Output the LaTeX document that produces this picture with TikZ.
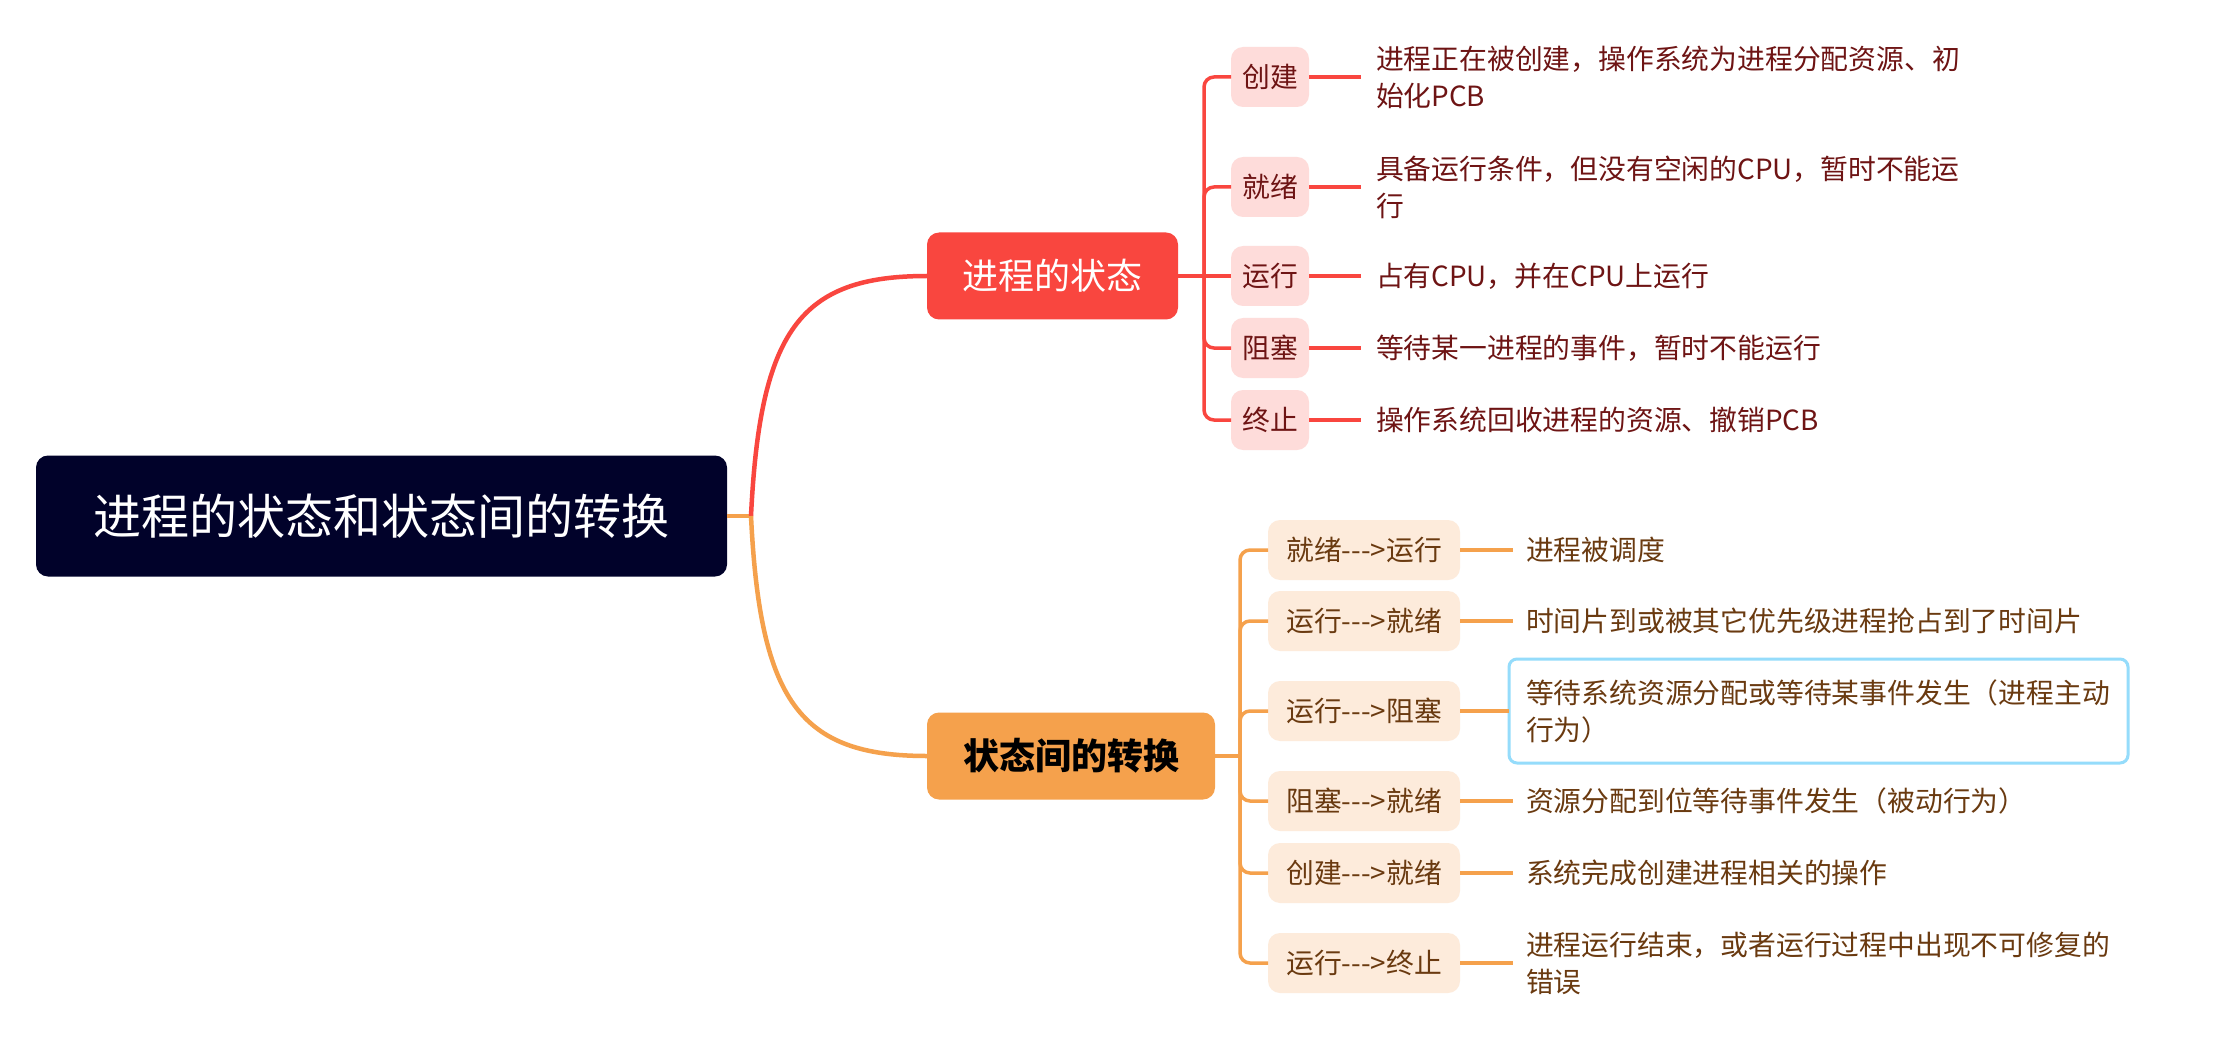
\documentclass[tikz,border=0pt]{standalone}
\usepackage{fontspec}
\setmainfont{Noto Sans CJK SC}
\definecolor{rootc}{HTML}{01022A}
\definecolor{redc}{HTML}{F9463F}
\definecolor{pinkc}{HTML}{FEDCDA}
\definecolor{redtxt}{HTML}{6E1414}
\definecolor{orc}{HTML}{F5A14C}
\definecolor{ofill}{HTML}{FDEBDB}
\definecolor{otxt}{HTML}{6A3A10}
\definecolor{bluec}{HTML}{95DCFB}
\begin{document}
\begin{tikzpicture}[x=1pt,y=-1pt,
  every node/.style={inner sep=0pt, outer sep=0pt},
  rootbox/.style={fill=rootc, rounded corners=12pt, minimum width=691pt, minimum height=121pt, text=white, font=\fontsize{48}{56}\selectfont},
  redmain/.style={fill=redc, rounded corners=12pt, minimum width=251pt, minimum height=87pt, text=white, font=\fontsize{36}{44}\selectfont},
  ormain/.style={fill=orc, rounded corners=12pt, minimum width=288pt, minimum height=87pt, text=black, font=\fontsize{36}{44}\selectfont\bfseries},
  rchild/.style={fill=pinkc, rounded corners=12pt, minimum width=78pt, minimum height=60pt, text=redtxt, font=\fontsize{27.8}{37}\selectfont},
  ochild/.style={fill=ofill, rounded corners=12pt, minimum width=192pt, minimum height=60pt, text=otxt, font=\fontsize{27.8}{37}\selectfont},
  rdesc/.style={anchor=west, align=left, text=redtxt, font=\fontsize{27.8}{37}\selectfont, inner xsep=15pt},
  odesc/.style={anchor=west, align=left, text=otxt, font=\fontsize{27.8}{37}\selectfont, inner xsep=13pt},
  rline/.style={draw=redc, line width=3.5pt},
  oline/.style={draw=orc, line width=3.5pt},
  hilite/.style={draw=bluec, line width=3pt, rounded corners=8pt, anchor=west, align=left, text=otxt, font=\fontsize{27.8}{37}\selectfont, inner xsep=17pt, text width=585pt, minimum height=104pt}
]
\useasboundingbox[fill=white] (0,0) rectangle (2234,1040);

% root
\node[rootbox] (root) at (381.5,516) {进程的状态和状态间的转换};
\node[redmain] (rm) at (1052.5,276) {进程的状态};
\node[ormain] (om) at (1071,756) {状态间的转换};

\coordinate (j) at (751,516);
\draw[oline, line width=4.5pt] (root.east) -- (j);
\draw[rline, line width=4.5pt] (j) .. controls (760,330) and (800,276) .. (rm.west);
\draw[oline, line width=4.5pt] (j) .. controls (760,702) and (800,756) .. (om.west);

% red children
\node[rchild] (c1) at (1270,77) {创建};
\node[rchild] (c2) at (1270,187) {就绪};
\node[rchild] (c3) at (1270,276) {运行};
\node[rchild] (c4) at (1270,348) {阻塞};
\node[rchild] (c5) at (1270,420) {终止};

\node[rdesc] (d1) at (1361,77) {进程正在被创建，操作系统为进程分配资源、初\\始化PCB};
\node[rdesc] (d2) at (1361,187) {具备运行条件，但没有空闲的CPU，暂时不能运\\行};
\node[rdesc] (d3) at (1361,276) {占有CPU，并在CPU上运行};
\node[rdesc] (d4) at (1361,348) {等待某一进程的事件，暂时不能运行};
\node[rdesc] (d5) at (1361,420) {操作系统回收进程的资源、撤销PCB};

\coordinate (rh) at (1204,276);
\draw[rline] (rm.east) -- (rh);
\foreach \c in {c1,c2,c4,c5} {\draw[rline, rounded corners=10pt] (rh) |- (\c.west);}
\draw[rline] (rh) -- (c3.west);
\foreach \i in {1,...,5} {\draw[rline] (c\i.east) -- (d\i.west);}

% orange children
\node[ochild] (o1) at (1364,550) {就绪-{}-{}->运行};
\node[ochild] (o2) at (1364,621) {运行-{}-{}->就绪};
\node[ochild] (o3) at (1364,711) {运行-{}-{}->阻塞};
\node[ochild] (o4) at (1364,801) {阻塞-{}-{}->就绪};
\node[ochild] (o5) at (1364,873) {创建-{}-{}->就绪};
\node[ochild] (o6) at (1364,963) {运行-{}-{}->终止};

\node[odesc] (e1) at (1513,550) {进程被调度};
\node[odesc] (e2) at (1513,621) {时间片到或被其它优先级进程抢占到了时间片};
\node[hilite] (e3) at (1509,711) {等待系统资源分配或等待某事件发生（进程主动\\行为）};
\node[odesc] (e4) at (1513,801) {资源分配到位等待事件发生（被动行为）};
\node[odesc] (e5) at (1513,873) {系统完成创建进程相关的操作};
\node[odesc] (e6) at (1513,963) {进程运行结束，或者运行过程中出现不可修复的\\错误};

\coordinate (oh) at (1240,756);
\draw[oline] (om.east) -- (oh);
\foreach \c in {o1,o2,o3,o4,o5,o6} {\draw[oline, rounded corners=10pt] (oh) |- (\c.west);}
\foreach \i in {1,...,6} {\draw[oline] (o\i.east) -- (e\i.west);}
\end{tikzpicture}
\end{document}
